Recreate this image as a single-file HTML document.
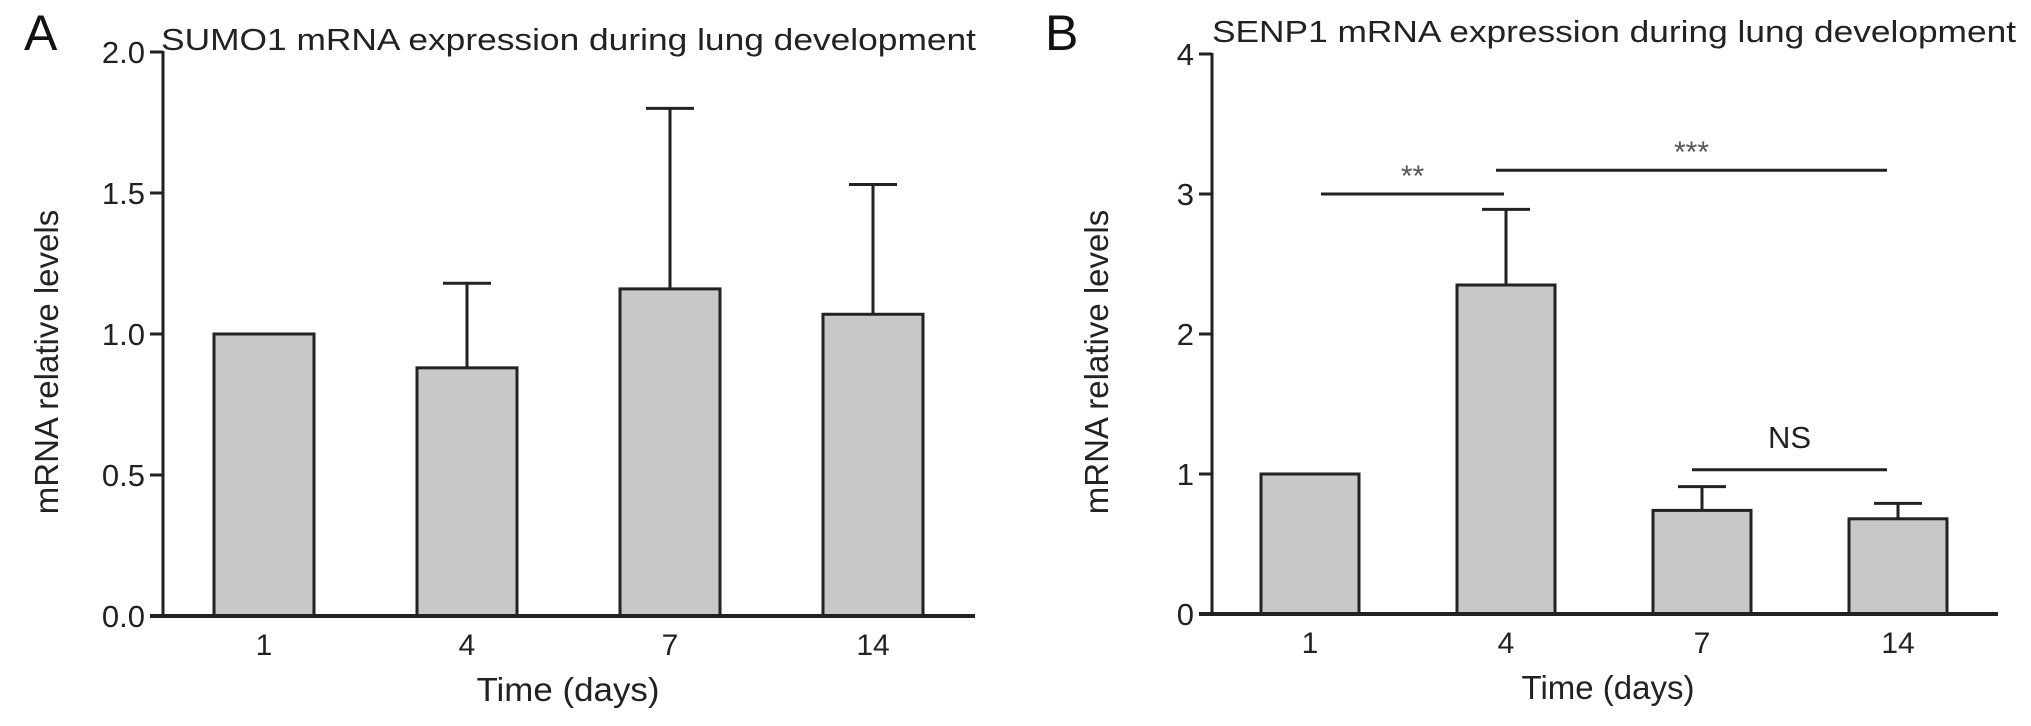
<!DOCTYPE html>
<html><head><meta charset="utf-8"><style>
html,body{margin:0;padding:0;background:#fff;}
svg{display:block;font-family:"Liberation Sans",Arial,sans-serif;}
</style></head><body>
<svg id="fig" width="2031" height="726" viewBox="0 0 2031 726" xmlns="http://www.w3.org/2000/svg">
<text x="24" y="50" font-size="50" fill="#111">A</text>
<text x="1045" y="50" font-size="50" fill="#111">B</text>
<text x="161" y="50" font-size="31" fill="#222" textLength="815" lengthAdjust="spacingAndGlyphs">SUMO1 mRNA expression during lung development</text>
<text x="1212" y="42" font-size="31" fill="#222" textLength="804" lengthAdjust="spacingAndGlyphs">SENP1 mRNA expression during lung development</text>
<g id="pa"></g>
<g id="pb"></g>
</svg>
<script>
const categories = ["1","4","7","14"];
const sumoValues = [1.0, 0.88, 1.16, 1.07];
const sumoErrors = [1.0, 1.18, 1.80, 1.53];
const sumoTicks = [0, 0.5, 1.0, 1.5, 2.0];
const sumoTickLabels = ["0.0","0.5","1.0","1.5","2.0"];
const senpValues = [1.0, 2.35, 0.74, 0.68];
const senpErrors = [1.0, 2.89, 0.91, 0.79];
const senpTicks = [0, 1, 2, 3, 4];
const senpTickLabels = ["0","1","2","3","4"];
const sigLabels = ["**","***","NS"];
const sigFrom = [0, 1, 2];
const sigTo = [1, 3, 3];
const sigLevel = [3.0, 3.17, 1.03];

const NS = "http://www.w3.org/2000/svg";
function mk(parent, tag, attrs, text){
  const e = document.createElementNS(NS, tag);
  for (const k in attrs) e.setAttribute(k, attrs[k]);
  if (text !== undefined) e.textContent = text;
  parent.appendChild(e);
  return e;
}

function drawPanel(g, cfg){
  const y = v => cfg.y0 - v / cfg.max * (cfg.y0 - cfg.yTop);
  const x = i => cfg.firstCenter + i * cfg.step;
  let el = mk(g, "line", {x1:cfg.ax, y1:y(cfg.max)-1, x2:cfg.ax, y2:cfg.y0, stroke:"#222","stroke-width":3});
  
  
  cfg.ticks.forEach((t, i) => {
    const tk = mk(g, "line", {x1:cfg.ax-13, y1:y(t), x2:cfg.ax, y2:y(t), stroke:"#222","stroke-width":3});
    
    
    const tl = mk(g, "text", {x:cfg.ax-18, y:y(t)+11, "font-size":31, "text-anchor":"end", fill:"#222"}, cfg.tickLabels[i]);
    
    
  });
  const yl = mk(g, "text", {x:0, y:0, "font-size":33, "text-anchor":"middle", fill:"#222", transform:`translate(${cfg.ylx},${cfg.yly}) rotate(-90)`}, "mRNA relative levels");
  
  
  cfg.values.forEach((v, i) => {
    const cx = x(i);
    if (cfg.errors[i] > v) {
      const ev = mk(g, "line", {x1:cx, y1:y(cfg.errors[i]), x2:cx, y2:y(v), stroke:"#222","stroke-width":3});
      
      
      const ec = mk(g, "line", {x1:cx-24, y1:y(cfg.errors[i]), x2:cx+24, y2:y(cfg.errors[i]), stroke:"#222","stroke-width":3});
      
      
    }
    const b = mk(g, "rect", {x:cx-cfg.bw/2, y:y(v), width:cfg.bw, height:cfg.y0-y(v), fill:"#c8c8c8", stroke:"#222","stroke-width":3});
    
    
    const cl = mk(g, "text", {x:cx, y:cfg.y0+39, "font-size":30, "text-anchor":"middle", fill:"#222"}, categories[i]);
    
    
  });
  el = mk(g, "line", {x1:cfg.ax-13, y1:cfg.y0, x2:cfg.xEnd, y2:cfg.y0, stroke:"#222","stroke-width":4});
  
  
  const xtAttrs = {x:cfg.xtx, y:cfg.y0+85, "font-size":33, "text-anchor":"middle", fill:"#222"};
  if (cfg.xtLen) { xtAttrs.textLength = cfg.xtLen; xtAttrs.lengthAdjust = "spacingAndGlyphs"; }
  const xt = mk(g, "text", xtAttrs, "Time (days)");
  
  
  return {x, y};
}

const pa = drawPanel(document.getElementById("pa"), {
  ax:163, y0:616, yTop:52, max:2.0, firstCenter:264, step:203, bw:100,
  values:sumoValues, errors:sumoErrors, ticks:sumoTicks, tickLabels:sumoTickLabels,
  ylx:58, yly:362, xEnd:975, xtx:568, xtLen:183
});
const pbG = document.getElementById("pb");
const pb = drawPanel(pbG, {
  ax:1212, y0:614, yTop:54, max:4, firstCenter:1310, step:196, bw:98,
  values:senpValues, errors:senpErrors, ticks:senpTicks, tickLabels:senpTickLabels,
  ylx:1108, yly:362, xEnd:1998, xtx:1608
});
sigLabels.forEach((lab, i) => {
  const xs = i === 0 ? pb.x(sigFrom[i]) + 11 : pb.x(sigFrom[i]) - 10;
  const x2 = sigTo[i] === 3 ? pb.x(sigTo[i]) - 11 : pb.x(sigTo[i]) - 2;
  const yy = pb.y(sigLevel[i]);
  const l = mk(pbG, "line", {x1:xs, y1:yy, x2:x2, y2:yy, stroke:"#222","stroke-width":3});
  
  
  const isStar = lab.indexOf("*") >= 0;
  const t = mk(pbG, "text", {x:(xs+x2)/2, y: isStar ? yy-8 : yy-22, "font-size": isStar ? 30 : 31, "text-anchor":"middle", fill: isStar ? "#555" : "#222"}, lab);
  
  
});
</script>
</body></html>
